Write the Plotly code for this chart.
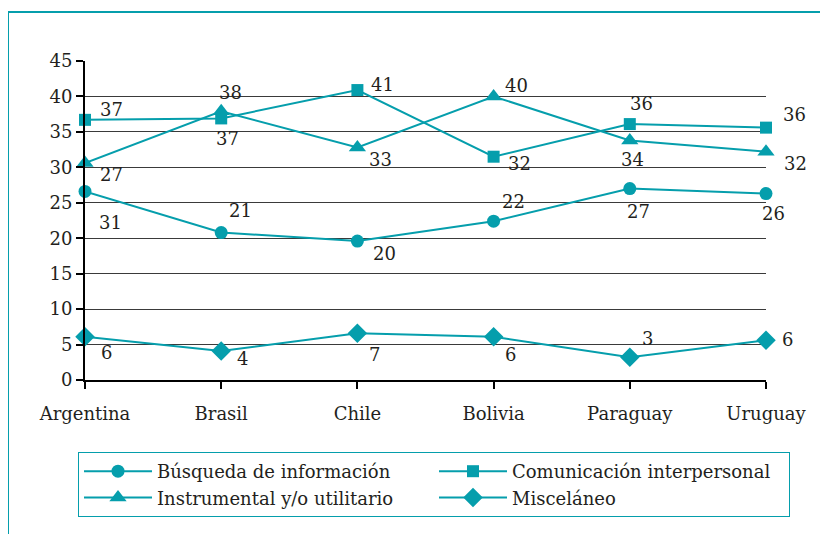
import plotly.graph_objects as go

countries = ["Argentina", "Brasil", "Chile", "Bolivia", "Paraguay", "Uruguay"]

busqueda = [26.6, 20.8, 19.6, 22.4, 27.0, 26.3]
comunicacion = [36.7, 36.9, 40.9, 31.5, 36.1, 35.6]
instrumental = [30.6, 37.9, 32.8, 40.0, 33.8, 32.2]
miscelaneo = [6.1, 4.1, 6.6, 6.1, 3.2, 5.6]

busqueda_labels = ["31", "21", "20", "22", "27", "26"]
comunicacion_labels = ["37", "37", "41", "32", "36", "36"]
instrumental_labels = ["27", "38", "33", "40", "34", "32"]
miscelaneo_labels = ["6", "4", "7", "6", "3", "6"]

y_ticks = [0, 5, 10, 15, 20, 25, 30, 35, 40, 45]

TEAL = "#059eac"
TXT = "#231f20"
FONT = "DejaVu Serif"

series = [
    ("Búsqueda de información", busqueda, busqueda_labels, "circle", 13,
     [(25, -31), (19, 22), (27, -12), (20, 20), (9, -23), (7, -20)]),
    ("Comunicación interpersonal", comunicacion, comunicacion_labels, "square", 12,
     [(26, 10), (6, -20), (25, 6), (26, -7), (12, 21), (28, 13)]),
    ("Instrumental y/o utilitario", instrumental, instrumental_labels, "triangle-up", 15,
     [(26, -11), (9, 19), (23, -12), (23, 11), (3, -19), (29, -12)]),
    ("Misceláneo", miscelaneo, miscelaneo_labels, "diamond", 15,
     [(21, -16), (21, -8), (17, -21), (17, -18), (18, 19), (21, 1)]),
]

fig = go.Figure()
annotations = []
for name, vals, labels, sym, size, offs in series:
    fig.add_trace(go.Scatter(
        x=countries, y=vals, name=name, mode="lines+markers",
        line=dict(color=TEAL, width=2),
        marker=dict(symbol=sym, size=size, color=TEAL),
        cliponaxis=False,
    ))
    for c, v, t, (dx, dy) in zip(countries, vals, labels, offs):
        annotations.append(dict(
            x=c, y=v, xref="x", yref="y", text=t, showarrow=False,
            xshift=dx, yshift=dy, font=dict(family=FONT, size=18, color=TXT),
        ))

OFF = 8
W, H = 828 - OFF, 534 - OFF
L, T = 85 - OFF, 61 - OFF
R = W - (766 - OFF)
B = H - (380 - OFF)
pw, ph = W - L - R, H - T - B

def px_x(p):
    return (p - OFF - L) / pw

def px_y(p):
    return (H - B - (p - OFF)) / ph

fig.update_layout(
    width=W, height=H,
    margin=dict(l=L, r=R, t=T, b=B),
    paper_bgcolor="white", plot_bgcolor="white",
    font=dict(family=FONT, color=TXT, size=18),
    showlegend=True,
    legend=dict(
        orientation="h", x=px_x(78), y=px_y(452), xanchor="left", yanchor="top",
        bordercolor=TEAL, borderwidth=1, bgcolor="white",
        font=dict(family=FONT, size=18, color=TXT),
        entrywidth=272, itemwidth=68, traceorder="normal",
    ),
    annotations=annotations,
    shapes=[dict(type="rect", xref="paper", yref="paper",
                 x0=px_x(8), x1=px_x(860), y0=px_y(580), y1=px_y(12),
                 line=dict(color=TEAL, width=2), layer="below")],
    xaxis=dict(
        type="category", range=[0, 5], showgrid=False,
        showline=True, linecolor="black", linewidth=2,
        ticks="outside", ticklen=7, tickwidth=2, tickcolor="black",
        tickfont=dict(family=FONT, size=18, color=TXT),
        ticklabelstandoff=9,
    ),
    yaxis=dict(
        range=[0, 45], tickvals=y_ticks, showgrid=True,
        gridcolor="#3a3a3a", gridwidth=1.3, zeroline=False,
        showline=True, linecolor="black", linewidth=2,
        ticks="outside", ticklen=7, tickwidth=2, tickcolor="black",
        tickfont=dict(family=FONT, size=18, color=TXT),
    ),
)

fig.write_html("out.html")
